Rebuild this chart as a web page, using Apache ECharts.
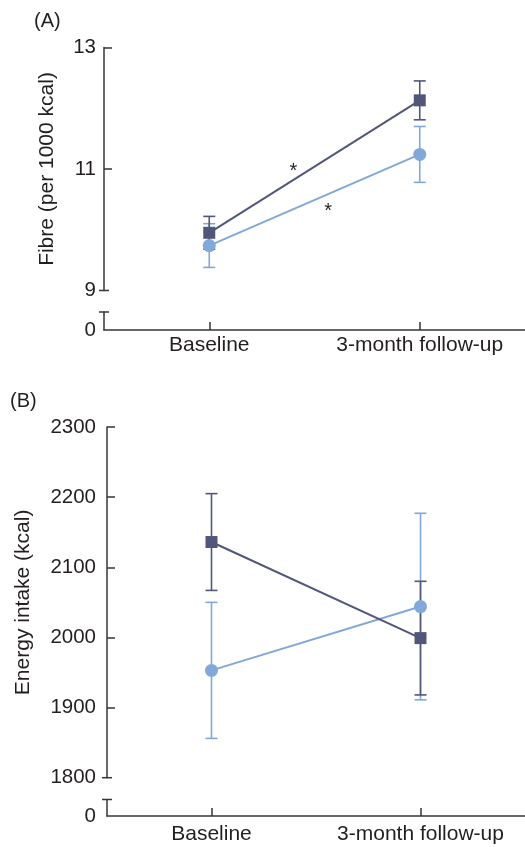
<!DOCTYPE html>
<html><head><meta charset="utf-8">
<script src="https://cdn.jsdelivr.net/npm/echarts@6/dist/echarts.min.js"></script>
<style>html,body{margin:0;padding:0;background:#fff}#c{width:525px;height:847px}</style>
</head><body><div id="c"></div>
<script>
// ---- data ----
const categories = ['Baseline', '3-month follow-up'];
const catIndex = [0, 1];
// Panel A: Fibre (per 1000 kcal)
const fibreTicks = [11, 13];
const fibreDark = [9.95, 12.13];
const fibreDarkErr = [0.27, 0.32];
const fibreLight = [9.74, 11.24];
const fibreLightErr = [0.36, 0.46];
const fibreStarX = [0.40, 0.565];
const fibreStarY = [11.04, 10.38];
// Panel B: Energy intake (kcal)
const energyTicks = [1900, 2000, 2100, 2200, 2300];
const energyDark = [2136, 1999];
const energyDarkErr = [69, 81];
const energyLight = [1953, 2044];
const energyLightErr = [97, 133];

const DARK = '#52577a';
const LIGHT = '#80a8d8';
const AXIS = '#363636';
const TEXT = '#231f20';
const FONT = '"Liberation Sans", Arial, Helvetica, sans-serif';

function pts(vals){ return catIndex.map((x,i)=>[x, vals[i]]); }
function errPts(vals, errs){ return catIndex.map((x,i)=>[x, vals[i], errs[i]]); }

function errRender(color){
  return function(params, api){
    const x = api.value(0), y = api.value(1), e = api.value(2);
    const hi = api.coord([x, y + e]), lo = api.coord([x, y - e]);
    const hw = 6;
    const st = {stroke: color, lineWidth: 1.6};
    return {type:'group', children:[
      {type:'line', shape:{x1:hi[0],y1:hi[1],x2:lo[0],y2:lo[1]}, style:st},
      {type:'line', shape:{x1:hi[0]-hw,y1:hi[1],x2:hi[0]+hw,y2:hi[1]}, style:st},
      {type:'line', shape:{x1:lo[0]-hw,y1:lo[1],x2:lo[0]+hw,y2:lo[1]}, style:st}
    ]};
  };
}
function starRender(params, api){
  const p = api.coord([api.value(0), api.value(1)]);
  return {type:'text', x:p[0], y:p[1]+5, style:{text:'*', fill:TEXT, font:'20px ' + FONT, align:'center', verticalAlign:'middle'}};
}

function mainY(grid, min, max, interval, ticks, name, nameGap, margin){
  return {gridIndex:grid, type:'value', min, max, interval,
    axisLine:{show:true, onZero:false, lineStyle:{color:AXIS, width:1.5}},
    axisTick:{show:true, inside:true, length:8, customValues:ticks, lineStyle:{color:AXIS, width:1.5}},
    splitLine:{show:false},
    axisLabel:{margin, fontSize:20.5, color:TEXT, fontFamily:FONT, formatter:v=>String(v)},
    name, nameLocation:'middle', nameGap,
    nameTextStyle:{fontSize:21, color:TEXT, fontFamily:FONT}};
}
function breakY(grid, margin){
  return {gridIndex:grid, type:'value', min:0, max:1, interval:1,
    axisLine:{show:true, onZero:false, lineStyle:{color:AXIS, width:1.5}},
    axisTick:{show:false}, splitLine:{show:false},
    axisLabel:{margin, fontSize:20.5, color:TEXT, fontFamily:FONT, formatter:v=> v===0 ? '0' : ''}};
}
function hiddenX(grid){ return {gridIndex:grid, type:'value', min:-0.5, max:1.5, show:false}; }
function catX(grid, margin){
  return {gridIndex:grid, type:'category', data:categories,
    axisLine:{show:true, onZero:false, lineStyle:{color:AXIS, width:1.5}},
    axisTick:{show:true, alignWithLabel:true, inside:true, length:8, interval:0, lineStyle:{color:AXIS, width:1.5}},
    axisLabel:{margin, interval:0, fontSize:21, color:TEXT, fontFamily:FONT}};
}
function lineSeries(xi, yi, vals, color, symbol, size){
  return {type:'line', xAxisIndex:xi, yAxisIndex:yi, data:pts(vals), symbol, symbolSize:size,
    lineStyle:{color, width:2}, itemStyle:{color}, z:3, animation:false};
}
function errSeries(xi, yi, vals, errs, color){
  return {type:'custom', xAxisIndex:xi, yAxisIndex:yi, data:errPts(vals, errs),
    encode:{x:0, y:1}, renderItem:errRender(color), z:2, animation:false};
}

const chart = echarts.init(document.getElementById('c'));
chart.setOption({
  animation:false,
  backgroundColor:'#fff',
  title:[
    {text:'(A)', left:34, top:11, padding:0, textStyle:{fontSize:20, fontWeight:'normal', color:TEXT, fontFamily:FONT}},
    {text:'(B)', left:10, top:391, padding:0, textStyle:{fontSize:20, fontWeight:'normal', color:TEXT, fontFamily:FONT}}
  ],
  grid:[
    {left:104, width:421, top:47.5, height:243},
    {left:104, width:421, top:312, height:18},
    {left:107, width:418, top:427, height:350.7},
    {left:107, width:418, top:799.5, height:16.5}
  ],
  xAxis:[hiddenX(0), catX(1, 5), hiddenX(2), catX(3, 8)],
  yAxis:[
    mainY(0, 9, 13, 2, fibreTicks, 'Fibre (per 1000 kcal)', 46, 8),
    breakY(1, 8),
    mainY(2, 1800, 2300, 100, energyTicks, 'Energy intake (kcal)', 73, 11),
    breakY(3, 11)
  ],
  series:[
    errSeries(0, 0, fibreLight, fibreLightErr, LIGHT),
    errSeries(0, 0, fibreDark, fibreDarkErr, DARK),
    lineSeries(0, 0, fibreLight, LIGHT, 'circle', 13),
    lineSeries(0, 0, fibreDark, DARK, 'rect', 12),
    {type:'custom', xAxisIndex:0, yAxisIndex:0, data:fibreStarX.map((x,i)=>[x, fibreStarY[i]]),
      encode:{x:0,y:1}, renderItem:starRender, z:4, animation:false},
    errSeries(2, 2, energyLight, energyLightErr, LIGHT),
    errSeries(2, 2, energyDark, energyDarkErr, DARK),
    lineSeries(2, 2, energyLight, LIGHT, 'circle', 13),
    lineSeries(2, 2, energyDark, DARK, 'rect', 12)
  ]
});

// axis-break caps (decoration derived from axes)
function cap(p){
  return {type:'line', shape:{x1:p[0]-5, y1:p[1], x2:p[0]+5, y2:p[1]}, style:{stroke:AXIS, lineWidth:1.5}, z:10};
}
const axA = chart.convertToPixel({xAxisIndex:0, yAxisIndex:0}, [-0.5, 9]);
const axB = chart.convertToPixel({xAxisIndex:2, yAxisIndex:2}, [-0.5, 1800]);
const caps = [
  cap(axA),
  cap([axA[0], chart.convertToPixel({yAxisIndex:1}, 1)]),
  cap(axB),
  cap([axB[0], chart.convertToPixel({yAxisIndex:3}, 1)])
];
chart.setOption({graphic:caps});
</script>
</body></html>
